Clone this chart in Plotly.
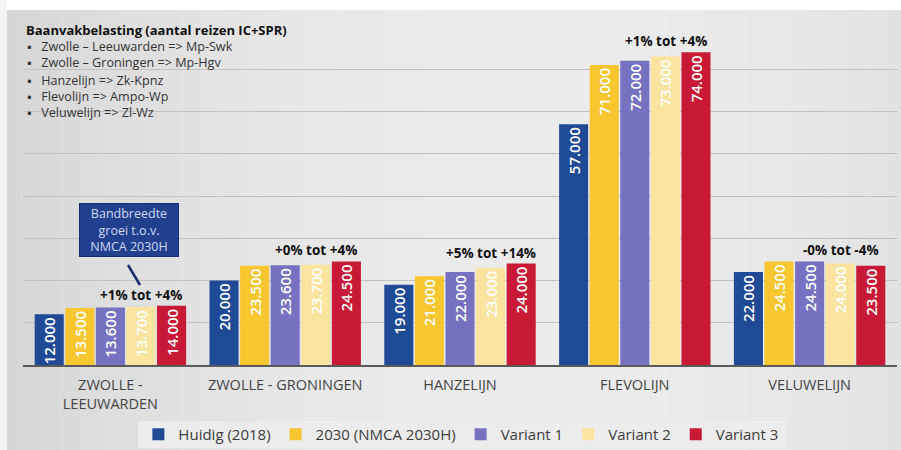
import plotly.graph_objects as go

categories = ["ZWOLLE -<br>LEEUWARDEN", "ZWOLLE - GRONINGEN", "HANZELIJN", "FLEVOLIJN", "VELUWELIJN"]
series_names = ["Huidig (2018)", "2030 (NMCA 2030H)", "Variant 1", "Variant 2", "Variant 3"]
huidig = [12000, 20000, 19000, 57000, 22000]
nmca2030 = [13500, 23500, 21000, 71000, 24500]
variant1 = [13600, 23600, 22000, 72000, 24500]
variant2 = [13700, 23700, 23000, 73000, 24000]
variant3 = [14000, 24500, 24000, 74000, 23500]
group_labels = ["+1% tot +4%", "+0% tot +4%", "+5% tot +14%", "+1% tot +4%", "-0% tot -4%"]
colors = ["#1F4A96", "#F8C62F", "#7772BF", "#FBE3A0", "#C81A36"]
bullets = ["Zwolle – Leeuwarden => Mp-Swk", "Zwolle – Groningen => Mp-Hgv",
           "Hanzelijn => Zk-Kpnz", "Flevolijn => Ampo-Wp", "Veluwelijn => Zl-Wz"]

all_series = [huidig, nmca2030, variant1, variant2, variant3]

def fmt(v):
    return f"{v:,}".replace(",", ".")

fig = go.Figure()
for name, vals, col in zip(series_names, all_series, colors):
    fig.add_trace(go.Bar(
        x=categories, y=vals, name=name,
        marker=dict(color=col, line=dict(width=0)),
        text=[fmt(v) for v in vals],
        textposition="inside", insidetextanchor="end",
        textangle=-90, constraintext="none",
        textfont=dict(family="Open Sans", size=15, color="white", weight=600),
        hoverinfo="skip",
    ))

# plot area in pixels: x 23..897, y 27..365
def px(x):
    return (x - 23) / 874

def py(y):
    return (365 - y) / 338

# background gradient strips (decoration)
shapes = []
n = 45
for i in range(n):
    t = (i + 0.5) / n
    d = abs(t - 0.6) / 0.6
    g = int(236 - 22 * d * d)
    c = f"rgb({g},{g},{g})"
    shapes.append(dict(type="rect", xref="paper", yref="paper",
                       x0=px(910 * i / n - 1), x1=px(910 * (i + 1) / n),
                       y0=py(452), y1=py(10),
                       fillcolor=c, line=dict(width=0), layer="below"))
shapes.append(dict(type="rect", xref="paper", yref="paper",
                   x0=px(-2), x1=px(910), y0=py(10), y1=py(-2),
                   fillcolor="white", line=dict(width=0), layer="below"))
shapes.append(dict(type="rect", xref="paper", yref="paper",
                   x0=px(-2), x1=px(7), y0=py(452), y1=py(-2),
                   fillcolor="#f4f4f4", line=dict(width=0), layer="below"))
# legend backdrop
shapes.append(dict(type="rect", xref="paper", yref="paper",
                   x0=px(138), x1=px(786), y0=py(448), y1=py(421),
                   fillcolor="#ececec", line=dict(width=0), layer="below"))
# callout connector line
shapes.append(dict(type="line", xref="paper", yref="paper",
                   x0=px(128), y0=py(265), x1=px(140), y1=py(285),
                   line=dict(color="#1a2f6b", width=2.5)))

annotations = []
for cat, lab, vals in zip(categories, group_labels, zip(*all_series)):
    annotations.append(dict(
        x=cat, y=max(vals), xref="x", yref="y", text=f"<b>{lab}</b>",
        showarrow=False, xshift=31, yanchor="bottom", yshift=0,
        font=dict(family="Open Sans", size=13.5, color="#111111"),
    ))

annotations.append(dict(
    x=px(129), y=py(230), xref="paper", yref="paper",
    xanchor="center", yanchor="middle",
    text="Bandbreedte<br>groei t.o.v.<br>NMCA 2030H",
    showarrow=False, bgcolor="#21418F", bordercolor="#172f6e", borderwidth=1,
    width=96, height=50, align="center",
    font=dict(family="Open Sans", size=12.5, color="#d0d7f2"),
))

annotations.append(dict(
    x=px(25), y=py(30), xref="paper", yref="paper",
    xanchor="left", yanchor="middle", borderpad=0,
    text="<b>Baanvakbelasting (aantal reizen IC+SPR)</b>",
    showarrow=False, font=dict(family="Open Sans", size=13, color="#111111"),
))
line_y = [47, 63, 80, 96, 113]
for b, yy in zip(bullets, line_y):
    annotations.append(dict(
        x=px(26), y=py(yy), xref="paper", yref="paper",
        xanchor="left", yanchor="middle", align="left", borderpad=0,
        text="▪   " + b,
        showarrow=False, font=dict(family="Open Sans", size=12.6, color="#333333"),
    ))

fig.update_layout(
    width=901, height=450,
    margin=dict(l=23, r=4, t=27, b=85, autoexpand=False),
    paper_bgcolor="#dadada", plot_bgcolor="rgba(0,0,0,0)",
    barmode="group", bargap=0.125, bargroupgap=0.05,
    font=dict(family="Open Sans", color="#444444"),
    showlegend=True,
    legend=dict(orientation="h", x=0.501, xanchor="center", y=py(451), yanchor="bottom",
                bgcolor="rgba(0,0,0,0)", font=dict(size=15, color="#3d3d3d"),
                itemclick=False, itemdoubleclick=False, tracegroupgap=0),
    shapes=shapes, annotations=annotations,
    xaxis=dict(showline=True, linecolor="#5a5a5a", linewidth=2, ticks="outside",
               ticklen=6, tickcolor="rgba(0,0,0,0)", automargin=False,
               tickfont=dict(family="Open Sans", size=14.5, color="#444444")),
    yaxis=dict(range=[0, 80000], dtick=10000, showticklabels=False, automargin=False,
               gridcolor="#c2c2c2", gridwidth=1, zeroline=False, showline=False),
)

fig.write_html(
    "out.html",
    config={"displayModeBar": False, "staticPlot": True},
    post_script="document.body.style.margin='0';document.body.style.overflow='hidden';document.documentElement.style.overflow='hidden';",
)
